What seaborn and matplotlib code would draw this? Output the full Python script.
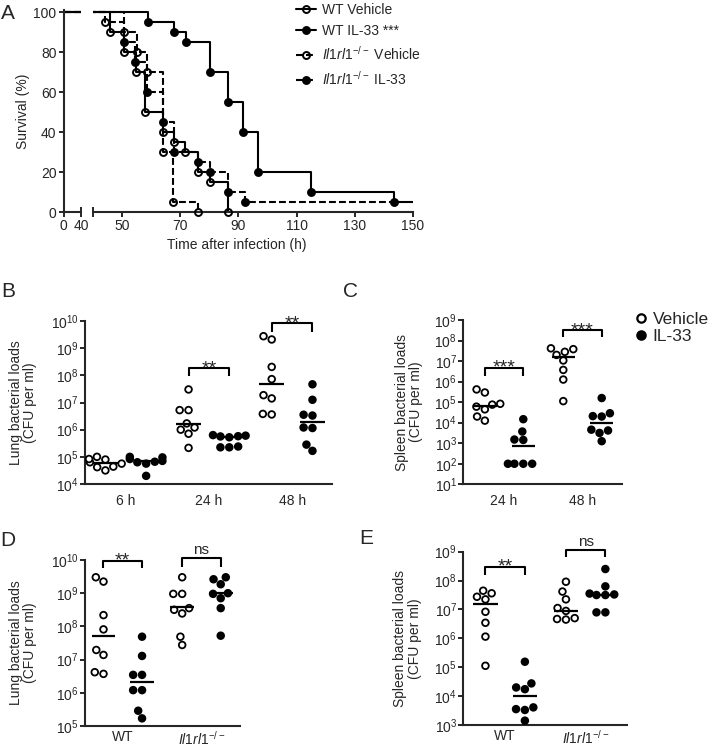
import numpy as np
import pandas as pd
import matplotlib
matplotlib.use("Agg")
import matplotlib.pyplot as plt
import seaborn as sns
from matplotlib.lines import Line2D
from matplotlib.ticker import NullLocator

# ---- A: survival (time in h, survival in %)
wt_veh_t = [0, 46, 50.5, 54.8, 57.9, 64, 68, 71.6, 76.2, 80.2, 86.5]
wt_veh_s = [100, 90, 80, 70, 50, 40, 35, 30, 20, 15, 0]
wt_il33_t = [0, 59, 67.9, 71.9, 80.2, 86.5, 91.5, 96.6, 114.8, 143.6, 150]
wt_il33_s = [100, 95, 90, 85, 70, 55, 40, 20, 10, 5, 5]
ko_veh_t = [0, 44.2, 50.8, 55, 58.5, 64, 67.6, 76.2]
ko_veh_s = [100, 95, 90, 80, 70, 30, 5, 0]
ko_il33_t = [0, 50.8, 54.6, 58.5, 64, 68, 76.2, 80.2, 86.5, 92.3, 143.6]
ko_il33_s = [100, 85, 75, 60, 45, 30, 25, 20, 10, 5, 5]
surv_labels = ['WT Vehicle', 'WT IL-33 ***',
               r'$\mathit{Il1rl1}^{-/-}$ Vehicle', r'$\mathit{Il1rl1}^{-/-}$ IL-33']

# ---- B: lung, log10 CFU per ml
lung_groups = ['6 h', '24 h', '48 h']
lung_6h_veh = [4.5, 4.62, 4.64, 4.75, 4.8, 4.9, 4.92, 5.0]
lung_6h_il33 = [4.3, 4.75, 4.8, 4.82, 4.85, 4.92, 4.98, 5.0]
lung_24h_veh = [5.33, 5.85, 6.0, 6.08, 6.23, 6.72, 6.72, 7.48]
lung_24h_il33 = [5.35, 5.35, 5.38, 5.72, 5.75, 5.76, 5.78, 5.8]
lung_48h_veh = [6.56, 6.58, 7.15, 7.27, 7.86, 8.31, 9.32, 9.44]
lung_48h_il33 = [5.22, 5.45, 6.06, 6.08, 6.52, 6.55, 7.1, 7.67]
lung_veh_med = [4.78, 6.2, 7.67]
lung_il33_med = [4.83, 5.74, 6.29]
lung_sig = [None, (8.26, 7.97, '**'), (9.92, 9.59, '**')]

# ---- C: spleen
spleen_groups = ['24 h', '48 h']
spleen_24h_veh = [4.1, 4.3, 4.65, 4.78, 4.88, 4.92, 5.47, 5.62]
spleen_24h_il33 = [2.0, 2.0, 2.0, 2.0, 3.16, 3.18, 3.57, 4.17]
spleen_48h_veh = [5.05, 6.1, 6.57, 7.03, 7.3, 7.45, 7.58, 7.62]
spleen_48h_il33 = [3.1, 3.5, 3.62, 3.66, 4.3, 4.32, 4.46, 5.2]
spleen_veh_med = [4.79, 7.2]
spleen_il33_med = [2.87, 3.98]
spleen_sig = [(6.66, 6.28, '***'), (8.49, 8.15, '***')]

# ---- D: lung, WT vs Il1rl1-/-
geno_labels = ['WT', r'$\mathit{Il1rl1}^{-/-}$']
d_wt_veh = [6.57, 6.62, 7.14, 7.29, 7.91, 8.34, 9.35, 9.48]
d_wt_il33 = [5.23, 5.46, 6.08, 6.08, 6.54, 6.54, 7.11, 7.69]
d_ko_veh = [7.44, 7.69, 8.39, 8.5, 8.55, 8.98, 8.98, 9.48]
d_ko_il33 = [7.72, 8.55, 8.85, 8.98, 9.0, 9.27, 9.42, 9.48]
d_veh_med = [7.71, 8.57]
d_il33_med = [6.32, 9.01]
d_sig = [(9.97, 9.75, '**'), (10.05, 9.8, 'ns')]

# ---- E: spleen, WT vs Il1rl1-/-
e_wt_veh = [5.05, 6.06, 6.54, 6.92, 7.35, 7.44, 7.56, 7.65]
e_wt_il33 = [3.15, 3.52, 3.55, 3.61, 4.24, 4.3, 4.44, 5.19]
e_ko_veh = [6.65, 6.67, 6.7, 6.95, 7.05, 7.35, 7.62, 7.96]
e_ko_il33 = [6.9, 6.9, 7.5, 7.5, 7.52, 7.55, 7.8, 8.4]
e_veh_med = [7.19, 6.96]
e_il33_med = [4.0, 7.5]
e_sig = [(8.48, 8.19, '**'), (9.06, 8.8, 'ns')]

W, H = 709, 749
OFF = {'Vehicle': -0.245, 'IL-33': 0.245}
FILL = {'Vehicle': 'white', 'IL-33': 'black'}

sns.set_style('ticks')
plt.rcParams['font.family'] = ['Liberation Sans', 'DejaVu Sans']
plt.rcParams['mathtext.fontset'] = 'custom'
plt.rcParams['mathtext.rm'] = 'Liberation Sans'
plt.rcParams['mathtext.it'] = 'Liberation Sans:italic'
plt.rcParams['mathtext.bf'] = 'Liberation Sans:bold'
plt.rcParams['axes.linewidth'] = 1.5


def rect(l, t, r, b):
    return [l / W, 1 - b / H, (r - l) / W, (b - t) / H]


def dot_panel(ax, groups, veh, il33, veh_med, il33_med, ylim, xlim, sig,
              ylabel, label_x, ticklabels, xpad):
    rows = []
    for i in range(len(groups)):
        for treat, vals in (('Vehicle', veh[i]), ('IL-33', il33[i])):
            for v in vals:
                rows.append({'pos': i + OFF[treat], 'cfu': 10.0 ** v, 'treatment': treat})
    df = pd.DataFrame(rows)
    sns.swarmplot(data=df, x='pos', y='cfu', hue='treatment', hue_order=['Vehicle', 'IL-33'],
                  palette=FILL, native_scale=True, log_scale=(False, True), size=4.8,
                  edgecolor='black', linewidth=1.3, legend=False, ax=ax, zorder=3)
    for i in range(len(groups)):
        ax.hlines(10.0 ** veh_med[i], i + OFF['Vehicle'] - 0.15, i + OFF['Vehicle'] + 0.15,
                  color='black', lw=1.6, zorder=4)
        ax.hlines(10.0 ** il33_med[i], i + OFF['IL-33'] - 0.15, i + OFF['IL-33'] + 0.15,
                  color='black', lw=1.6, zorder=4)
        if sig[i] is None:
            continue
        top, leg, txt = sig[i]
        x0, x1 = i + OFF['Vehicle'], i + OFF['IL-33']
        ax.plot([x0, x0, x1, x1], [10 ** leg, 10 ** top, 10 ** top, 10 ** leg],
                color='black', lw=1.5, clip_on=False, solid_capstyle='butt')
        if txt == 'ns':
            ax.annotate(txt, (i, 10 ** top), xytext=(0, 3), textcoords='offset points',
                        ha='center', va='baseline', fontsize=11, annotation_clip=False)
        else:
            ax.annotate(txt, (i, 10 ** top), xytext=(0, -3.5), textcoords='offset points',
                        ha='center', va='baseline', fontsize=14, annotation_clip=False)
    ax.set_ylim(10.0 ** ylim[0], 10.0 ** ylim[1])
    ax.set_yticks(10.0 ** np.arange(ylim[0], ylim[1] + 1))
    ax.yaxis.set_minor_locator(NullLocator())
    ax.set_xlim(*xlim)
    ax.set_xticks(range(len(groups)))
    ax.set_xticklabels(ticklabels)
    ax.tick_params(axis='x', length=0, pad=xpad, labelsize=10)
    ax.tick_params(axis='y', length=3.5, width=1.4, pad=1, labelsize=10)
    ax.set_xlabel('')
    ax.set_ylabel(ylabel, fontsize=10, linespacing=1.05)
    ax.yaxis.set_label_coords(label_x, 0.5)
    sns.despine(ax=ax)


fig = plt.figure(figsize=(W / 100, H / 100), dpi=100)

# ---- panel A, broken x axis
axL = fig.add_axes(rect(63.5, 10.3, 81, 212.3))
axR = fig.add_axes(rect(93, 10.3, 413, 212.3))
curves = [(wt_veh_t, wt_veh_s, '-', 'none', True),
          (wt_il33_t, wt_il33_s, '-', 'black', False),
          (ko_veh_t, ko_veh_s, (0, (3.3, 1.5)), 'none', True),
          (ko_il33_t, ko_il33_s, (0, (3.3, 1.5)), 'black', False)]
handles = []
for t, s, ls, mfc, end_marked in curves:
    for ax in (axL, axR):
        ax.plot(t, s, drawstyle='steps-post', color='black', lw=1.5, linestyle=ls)
    end = None if end_marked else -1
    axR.plot(t[1:end], s[1:end], linestyle='none', marker='o', ms=5, mfc=mfc,
             mec='black', mew=1.4, clip_on=False, zorder=3)
    handles.append(Line2D([], [], color='black', lw=1.5, linestyle=ls, marker='o', ms=5,
                          mfc=mfc, mec='black', mew=1.4))
for ax in (axL, axR):
    ax.set_ylim(0, 101)
    ax.tick_params(axis='both', which='major', length=3.5, width=1.4, pad=1.5, labelsize=10)
    ax.tick_params(axis='x', which='minor', direction='inout', length=7, width=1.4,
                   pad=1.5, labelsize=10)
axL.set_xlim(0, 40)
axR.set_xlim(40, 150)
axL.set_xticks([0])
axL.set_xticks([40], minor=True)
axL.set_xticklabels(['40'], minor=True)
axL.set_yticks([0, 20, 40, 60, 80, 100])
axR.set_xticks([50, 70, 90, 110, 130, 150])
axR.set_xticks([40], minor=True)
axR.set_xticklabels([''], minor=True)
axR.tick_params(axis='y', left=False, labelleft=False)
sns.despine(ax=axL)
sns.despine(ax=axR, left=True)
axL.set_ylabel('Survival (%)', fontsize=10)
axL.yaxis.set_label_coords(-1.91, 0.5)
fig.text(237 / W, 1 - 245 / H, 'Time after infection (h)', ha='center', va='center', fontsize=10)
fig.legend(handles, surv_labels, loc='upper left', bbox_to_anchor=(296 / W, 1 - 3 / H),
           frameon=False, fontsize=10, handlelength=1.45, handletextpad=0.45,
           labelspacing=0.5, borderpad=0, borderaxespad=0, numpoints=1)

# ---- panels B-E
axB = fig.add_axes(rect(85, 321, 332, 484))
dot_panel(axB, lung_groups, [lung_6h_veh, lung_24h_veh, lung_48h_veh],
          [lung_6h_il33, lung_24h_il33, lung_48h_il33], lung_veh_med, lung_il33_med,
          (4, 10), (-0.49, 2.48), lung_sig, 'Lung bacterial loads\n(CFU per ml)', -0.194,
          lung_groups, 7)

axC = fig.add_axes(rect(463.3, 320, 621.7, 484.3))
dot_panel(axC, spleen_groups, [spleen_24h_veh, spleen_48h_veh],
          [spleen_24h_il33, spleen_48h_il33], spleen_veh_med, spleen_il33_med,
          (1, 9), (-0.52, 1.5), spleen_sig, 'Spleen bacterial loads\n(CFU per ml)', -0.254,
          spleen_groups, 7)

axD = fig.add_axes(rect(85, 560, 240, 726))
dot_panel(axD, geno_labels, [d_wt_veh, d_ko_veh], [d_wt_il33, d_ko_il33], d_veh_med, d_il33_med,
          (5, 10), (-0.48, 1.49), d_sig, 'Lung bacterial loads\n(CFU per ml)', -0.308,
          geno_labels, 3)

axE = fig.add_axes(rect(463.3, 551.7, 626.7, 725))
dot_panel(axE, geno_labels, [e_wt_veh, e_ko_veh], [e_wt_il33, e_ko_il33], e_veh_med, e_il33_med,
          (3, 9), (-0.52, 1.51), e_sig, 'Spleen bacterial loads\n(CFU per ml)', -0.255,
          geno_labels, 3)

leg_handles = [Line2D([], [], linestyle='none', marker='o', ms=6, mfc=FILL[k], mec='black', mew=1.6)
               for k in ('Vehicle', 'IL-33')]
fig.legend(leg_handles, ['Vehicle', 'IL-33'], loc='upper left', bbox_to_anchor=(636 / W, 1 - 312 / H),
           frameon=False, fontsize=12.5, handlelength=0.6, handletextpad=0.35,
           labelspacing=0.1, borderpad=0, borderaxespad=0)

for letter, x, y in (('A', 8.3, 13.3), ('B', 8.3, 291.7), ('C', 350, 291.7),
                     ('D', 8.3, 540), ('E', 366.7, 538.3)):
    fig.text(x / W, 1 - y / H, letter, fontsize=15, ha='center', va='center')

fig.savefig('out.png', dpi=100)
